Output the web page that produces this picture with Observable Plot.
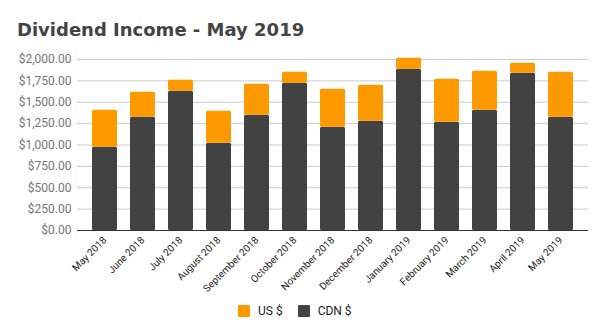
<!DOCTYPE html>
<html>
<head>
<meta charset="utf-8">
<script src="https://cdn.jsdelivr.net/npm/d3@7"></script>
<script src="https://cdn.jsdelivr.net/npm/@observablehq/plot@0.6"></script>
<style>
  html, body { margin: 0; padding: 0; background: #fff; }
  #wrap { position: relative; width: 605px; height: 335px; overflow: hidden; }
  #title { position: absolute; left: 17px; top: 21px; font: bold 18px "DejaVu Sans", Verdana, sans-serif; line-height: 18px; color: #444; white-space: nowrap; }
  #chart { position: absolute; left: 0; top: 45px; }
  #legend { position: absolute; left: 238px; top: 304px; font: 12px Roboto, sans-serif; color: #222; display: flex; align-items: center; white-space: nowrap; }
  .sw { display: inline-block; width: 12px; height: 12px; border-radius: 1px; margin-right: 8px; }
  .item { display: flex; align-items: center; margin-right: 15px; }
</style>
</head>
<body>
<div id="wrap">
  <div id="title">Dividend Income - May 2019</div>
  <div id="chart"></div>
  <div id="legend"></div>
</div>
<script>
const months = ["May 2018","June 2018","July 2018","August 2018","September 2018","October 2018","November 2018","December 2018","January 2019","February 2019","March 2019","April 2019","May 2019"];
const cdn = [974, 1324, 1629, 1021, 1347, 1723, 1208, 1278, 1886, 1267, 1407, 1840, 1325];
const us  = [433, 293, 128, 374, 364, 128, 445, 421, 129, 503, 456, 117, 526];
const seriesNames = ["US $", "CDN $"];
const seriesColors = ["#ff9900", "#424242"];
const yTicks = [0, 250, 500, 750, 1000, 1250, 1500, 1750, 2000];

const data = [];
months.forEach((m, i) => {
  data.push({month: m, series: "CDN $", value: cdn[i]});
  data.push({month: m, series: "US $", value: us[i]});
});

const chart = Plot.plot({
  width: 605,
  height: 255,
  marginTop: 14,
  marginBottom: 70,
  marginLeft: 77,
  marginRight: 17,
  style: { fontFamily: "Roboto, sans-serif", background: "#fff" },
  x: { domain: months, paddingInner: 0.35, paddingOuter: 0.35, label: null },
  y: { domain: [0, 2000], label: null },
  color: { domain: seriesNames, range: seriesColors },
  marks: [
    Plot.gridY(yTicks, { stroke: "#cccccc", strokeOpacity: 1 }),
    Plot.barY(data, { x: "month", y: "value", fill: "series", order: ["CDN $", "US $"], rx: 1.5 }),
    Plot.ruleY([0], { stroke: "#333", strokeWidth: 1.2 }),
    Plot.axisY(yTicks, { tickSize: 0, tickPadding: 6, tickFormat: d3.format("$,.2f"), fontSize: 12, color: "#757575", label: null }),
    Plot.axisX({ tickSize: 0, tickPadding: 8, tickRotate: -45, fontSize: 10, color: "#222", label: null })
  ]
});
document.getElementById("chart").appendChild(chart);

const legend = document.getElementById("legend");
seriesNames.forEach((n, i) => {
  const it = document.createElement("div");
  it.className = "item";
  it.innerHTML = `<span class="sw" style="background:${seriesColors[i]}"></span><span>${n}</span>`;
  legend.appendChild(it);
});
</script>
</body>
</html>
